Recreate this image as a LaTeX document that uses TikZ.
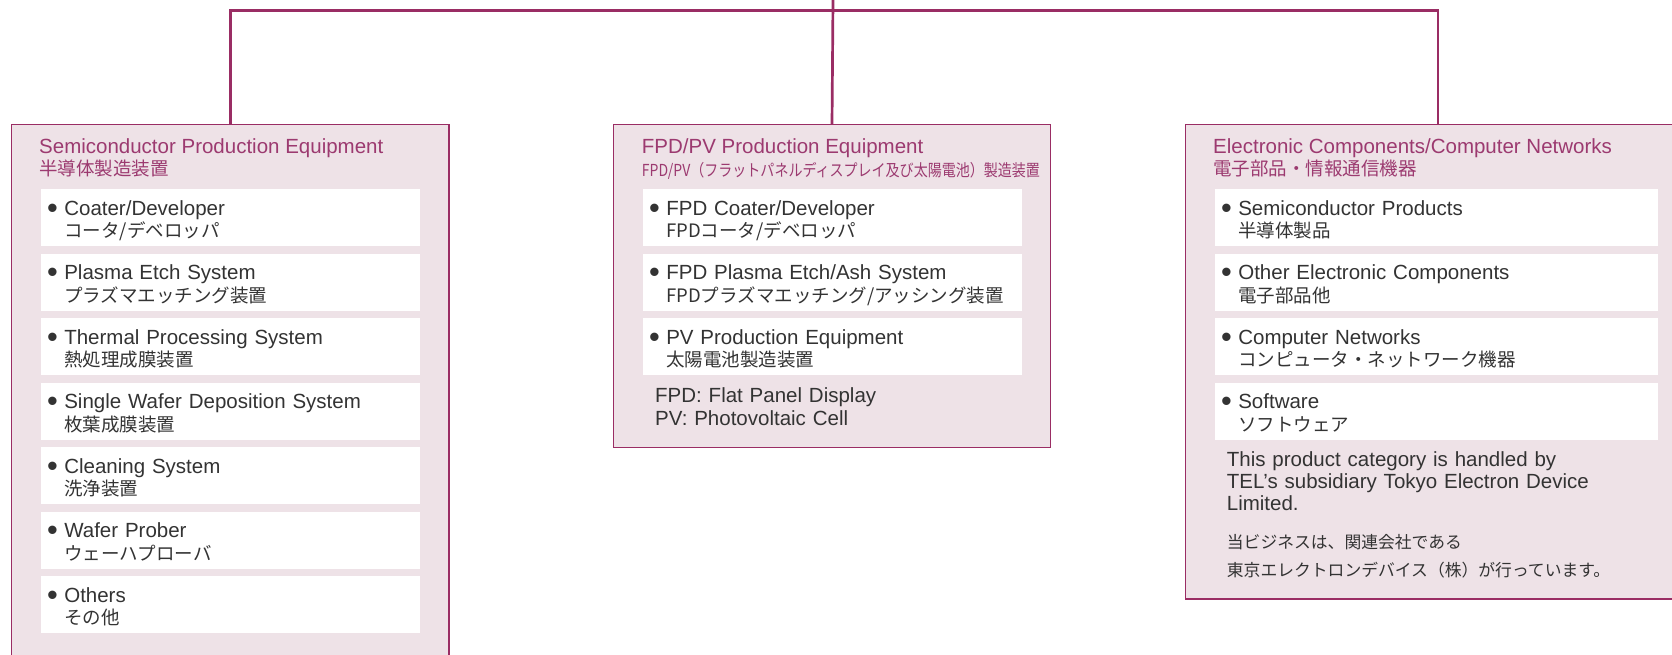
\documentclass[tikz,border=0pt]{standalone}
\usepackage{fontspec}
\setmainfont{Liberation Sans}
\newfontfamily\jafont{Noto Sans CJK JP}
\definecolor{telline}{HTML}{9A2D64}
\definecolor{teltitle}{HTML}{9C3A70}
\definecolor{telfill}{HTML}{EEE2E7}
\definecolor{teltext}{HTML}{333333}
\newcommand\enf{\fontsize{20.5}{22.3}\selectfont}
\newcommand\jaf{\jafont\fontsize{18.5}{20.4}\selectfont}
\newcommand\itm[2]{\makebox[15.3pt][l]{\hspace*{-1.8pt}\raisebox{-3pt}{\scalebox{1.5}{•}}}#1\\\hspace*{15.3pt}\jaf #2}

\begin{document}
\begin{tikzpicture}[x=1pt, y=1pt,
	panel/.style={draw=telline, fill=telfill, line width=1.3pt, anchor=north west, inner sep=0pt, outer sep=0pt},
	itembox/.style={fill=white, anchor=north west, inner xsep=8pt, inner ysep=0pt, outer sep=0pt, text width=#1, align=left, text height=26.3pt, text depth=30.7pt, font=\enf, text=teltext},
	itembox/.default=363pt,
	head/.style={anchor=base west, inner sep=0pt, text=teltitle, font=\enf},
	subhead/.style={head, font=\jaf},
	note/.style={anchor=base west, inner sep=0pt, align=left, text=teltext},
	link/.style={draw=telline, line width=2.7pt}]
			\useasboundingbox (0,0) rectangle (1672,-654);
			\clip (0,0) rectangle (1672,-654);
			\node[panel, minimum width=437.3pt, minimum height=600pt] (semi) at (11.7,-124.3) {};
			\node[panel, minimum width=437.4pt, minimum height=323pt] (fpd) at (613.3,-124.3) {};
			\node[panel, minimum width=504.3pt, minimum height=474.7pt] (elec) at (1185.7,-124.3) {};
			\coordinate (root) at (833,0);
			\coordinate (bus) at (833,-10.7);
			\draw[link] (root) -- (fpd.north);
			\draw[link] (semi.north) -- (semi.north |- bus) -- (elec.north |- bus) -- (elec.north);
			% semiconductor production equipment
			\node[head] (semi-t) at (39,-153) {Semiconductor Production Equipment};
			\node[subhead] (semi-j) at (39,-175.7) {半導体製造装置};
			\node[itembox] (s1) at (41,-189) {\itm{Coater/Developer}{コータ/デベロッパ}};
			\node[itembox] (s2) at (41,-253.5) {\itm{Plasma Etch System}{プラズマエッチング装置}};
			\node[itembox] (s3) at (41,-318) {\itm{Thermal Processing System}{熱処理成膜装置}};
			\node[itembox] (s4) at (41,-382.5) {\itm{Single Wafer Deposition System}{枚葉成膜装置}};
			\node[itembox] (s5) at (41,-447) {\itm{Cleaning System}{洗浄装置}};
			\node[itembox] (s6) at (41,-511.5) {\itm{Wafer Prober}{ウェーハプローバ}};
			\node[itembox] (s7) at (41,-576) {\itm{Others}{その他}};
			% fpd/pv production equipment
			\node[head] (fpd-t) at (641.7,-153) {FPD/PV Production Equipment};
			\node[head] (fpd-j) at (641.7,-176) {\scalebox{0.85}[1]{\jafont\fontsize{16.5}{18}\selectfont FPD/PV（フラットパネルディスプレイ及び太陽電池）製造装置}};
			\node[itembox] (f1) at (643,-189) {\itm{FPD Coater/Developer}{FPDコータ/デベロッパ}};
			\node[itembox] (f2) at (643,-253.5) {\itm{FPD Plasma Etch/Ash System}{FPDプラズマエッチング/アッシング装置}};
			\node[itembox] (f3) at (643,-318) {\itm{PV Production Equipment}{太陽電池製造装置}};
			\node[note, text width=340pt, font=\fontsize{20.5}{23}\selectfont] (fpd-n) at (655,-402) {FPD: Flat Panel Display\\PV: Photovoltaic Cell};
			% electronic components/computer networks
			\node[head] (elec-t) at (1213,-153) {Electronic Components/Computer Networks};
			\node[subhead] (elec-j) at (1213,-175.7) {電子部品・情報通信機器};
			\node[itembox=427pt] (e1) at (1215,-189) {\itm{Semiconductor Products}{半導体製品}};
			\node[itembox=427pt] (e2) at (1215,-253.5) {\itm{Other Electronic Components}{電子部品他}};
			\node[itembox=427pt] (e3) at (1215,-318) {\itm{Computer Networks}{コンピュータ・ネットワーク機器}};
			\node[itembox=427pt] (e4) at (1215,-382.5) {\itm{Software}{ソフトウェア}};
			\node[note, text width=420pt, font=\enf] (elec-n) at (1226.7,-466) {This product category is handled by\\TEL's subsidiary Tokyo Electron Device\\Limited.};
			\node[note, text width=420pt, font=\jafont\fontsize{16.8}{28}\selectfont] (elec-m) at (1226.7,-548.8) {当ビジネスは、関連会社である\\東京エレクトロンデバイス（株）が行っています。};
\end{tikzpicture}
\end{document}
